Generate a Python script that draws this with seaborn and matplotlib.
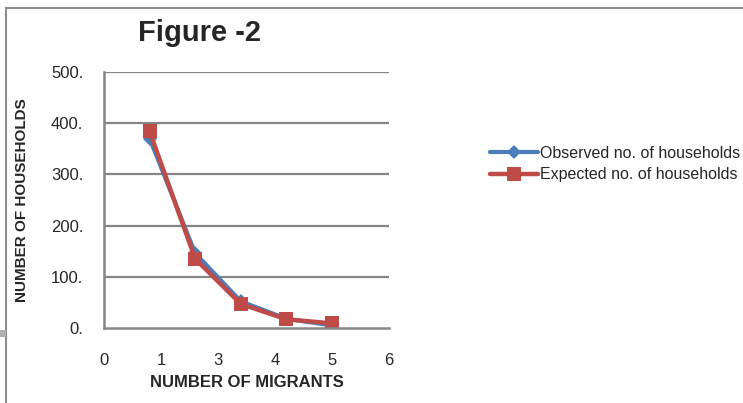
import pandas as pd
import seaborn as sns
from matplotlib import pyplot as plt
from matplotlib.patches import Rectangle

# values
x_pos = [0.8, 1.6, 2.4, 3.2, 4.0]
observed = [370, 146, 52, 18, 5]
expected = [384, 135, 47, 17, 9]
x_ticklabels = ['0', '1', '3', '4', '5', '6']
y_ticks = [0, 100, 200, 300, 400, 500]
y_ticklabels = ['0.', '100.', '200.', '300.', '400.', '500.']

sns.set_style('white')
plt.rcParams['font.family'] = ['Liberation Sans', 'DejaVu Sans']

fig = plt.figure(figsize=(7.43, 4.03), dpi=100)
ax = fig.add_axes([104 / 743, 1 - 328 / 403, 285 / 743, 256 / 403])

grid_c = '#868686'
for v in y_ticks[1:]:
    ax.axhline(v, color=grid_c, lw=1.6, zorder=0)

sns.lineplot(x=x_pos, y=observed, ax=ax, color='#4A7EBB', lw=3, marker='D',
             markersize=7, markeredgewidth=0, label='Observed no. of households')
sns.lineplot(x=x_pos, y=expected, ax=ax, color='#BE4B48', lw=3.2, marker='s',
             markersize=10, markeredgewidth=0, label='Expected no. of households')

ax.set_xlim(0, 5)
ax.set_ylim(0, 500)
ax.set_xticks(range(len(x_ticklabels)))
ax.set_xticklabels(x_ticklabels)
ax.set_yticks(y_ticks)
ax.set_yticklabels(y_ticklabels)
ax.tick_params(axis='both', direction='out', length=5, width=1.4, color=grid_c,
               labelsize=12, pad=10)
ax.tick_params(axis='x', pad=13)
for s in ['top', 'right']:
    ax.spines[s].set_visible(False)
for s in ['left', 'bottom']:
    ax.spines[s].set_color(grid_c)
    ax.spines[s].set_linewidth(1.8)

ax.set_xlabel('NUMBER OF MIGRANTS', fontsize=12, fontweight='bold', labelpad=5)
ax.set_ylabel('NUMBER OF HOUSEHOLDS', fontsize=11, fontweight='bold', labelpad=16)
fig.text(200 / 743, 1 - 33 / 403, 'Figure -2', fontsize=21, fontweight='bold',
         ha='center', va='center')

leg = ax.legend(loc='center left', bbox_to_anchor=(476 / 743, 1 - 164 / 403),
                bbox_transform=fig.transFigure, frameon=False,
                handlelength=3.0, handletextpad=0.1, labelspacing=0.4,
                prop={'size': 11.5})

# chart border
fig.patches.append(Rectangle((6 / 743, -0.01), 1.0, 1 - 8 / 403 + 0.01, transform=fig.transFigure,
                             fill=False, edgecolor='#8c8c8c', lw=1.5))
fig.patches.append(Rectangle((0, 1 - 337 / 403), 6 / 743, 7 / 403, transform=fig.transFigure,
                             facecolor='#b0b0b0', edgecolor='none'))

fig.savefig('out.png', dpi=100)
